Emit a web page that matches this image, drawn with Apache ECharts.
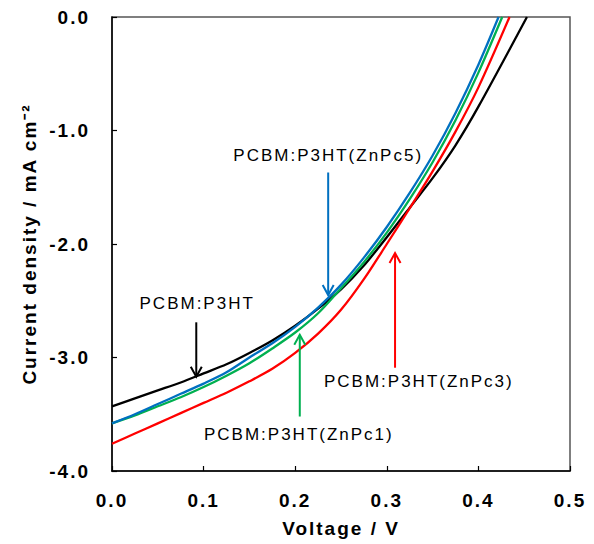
<!DOCTYPE html>
<html>
<head>
<meta charset="utf-8">
<script src="https://cdn.jsdelivr.net/npm/echarts@6/dist/echarts.min.js"></script>
<style>
  html, body { margin: 0; padding: 0; background: #fff; }
  #chart { width: 594px; height: 544px; }
  #chart text { letter-spacing: 2px; }
</style>
</head>
<body>
<div id="chart"></div>
<script>
// ---- data ----
const voltage = [0, 0.025, 0.05, 0.075, 0.1, 0.125, 0.15, 0.175, 0.2, 0.225, 0.25, 0.275, 0.3, 0.325, 0.35, 0.375, 0.4];
const seriesNames = ['PCBM:P3HT', 'PCBM:P3HT(ZnPc3)', 'PCBM:P3HT(ZnPc1)', 'PCBM:P3HT(ZnPc5)'];
const jBlack = [-3.43, -3.36, -3.29, -3.22, -3.14, -3.06, -2.96, -2.85, -2.72, -2.57, -2.40, -2.19, -1.94, -1.68, -1.42, -1.13, -0.79];
const jRed   = [-3.76, -3.67, -3.58, -3.49, -3.40, -3.31, -3.21, -3.10, -2.96, -2.79, -2.58, -2.31, -2.00, -1.685, -1.36, -1.01, -0.62];
const jGreen = [-3.58, -3.51, -3.43, -3.35, -3.26, -3.16, -3.05, -2.92, -2.78, -2.61, -2.39, -2.16, -1.90, -1.605, -1.28, -0.91, -0.49];
const jBlue  = [-3.58, -3.50, -3.41, -3.32, -3.23, -3.13, -3.00, -2.875, -2.73, -2.56, -2.36, -2.12, -1.85, -1.55, -1.22, -0.845, -0.42];
const vocValues = [0.453, 0.434, 0.426, 0.422];

const xTicks = [0, 0.1, 0.2, 0.3, 0.4, 0.5];
const yTicks = [-4, -3, -2, -1, 0];

// annotations
const annoLabels = ['PCBM:P3HT', 'PCBM:P3HT(ZnPc5)', 'PCBM:P3HT(ZnPc3)', 'PCBM:P3HT(ZnPc1)'];
const annoArrowV = [0.092, 0.236, 0.309, 0.205];
const annoArrowFrom = [-2.69, -1.37, -3.09, -3.52];
const annoArrowTo = [-3.17, -2.45, -2.08, -2.80];
const annoTextV = [0.093, 0.236, 0.335, 0.204];
const annoTextJ = [-2.52, -1.22, -3.21, -3.68];

// ---- styles ----
const seriesColors = ['#000000', '#FF0000', '#00B050', '#0070C0'];
const annoColors = ['#000000', '#0070C0', '#FF0000', '#00B050'];
const FONT = '"Liberation Sans", Arial, sans-serif';

const curves = [jBlack, jRed, jGreen, jBlue];

const lineSeries = curves.map((arr, k) => ({
  name: seriesNames[k],
  type: 'line',
  showSymbol: false,
  smooth: 0.3,
  data: voltage.map((v, i) => [v, arr[i]]).concat([[vocValues[k], 0]]),
  lineStyle: { color: seriesColors[k], width: 2.3 },
  itemStyle: { color: seriesColors[k] },
  z: 2 + k
}));

const annoData = annoArrowV.map((v, i) => [v, annoArrowFrom[i], annoArrowTo[i], annoTextV[i], annoTextJ[i]]);

const annoSeries = {
  type: 'custom',
  clip: false,
  z: 10,
  data: annoData,
  encode: { x: 0, y: 1 },
  renderItem: function (params, api) {
    const i = params.dataIndex;
    const v = api.value(0);
    const p1 = api.coord([v, api.value(1)]);
    const p2 = api.coord([v, api.value(2)]);
    const pt = api.coord([api.value(3), api.value(4)]);
    const dx = p2[0] - p1[0], dy = p2[1] - p1[1];
    const len = Math.sqrt(dx * dx + dy * dy) || 1;
    const ux = dx / len, uy = dy / len;
    const hl = 10, hw = 5.5;
    const bx = p2[0] - ux * hl, by = p2[1] - uy * hl;
    const color = annoColors[i];
    return {
      type: 'group',
      children: [
        { type: 'line', shape: { x1: p1[0], y1: p1[1], x2: p2[0], y2: p2[1] },
          style: { stroke: color, lineWidth: 2 } },
        { type: 'polyline', shape: { points: [[bx - uy * hw, by + ux * hw], [p2[0], p2[1]], [bx + uy * hw, by - ux * hw]] },
          style: { stroke: color, lineWidth: 2, fill: null } },
        { type: 'text', style: { text: annoLabels[i], x: pt[0], y: pt[1], fill: '#000',
          font: '17px ' + FONT, align: 'center', verticalAlign: 'middle' } }
      ]
    };
  }
};

const chart = echarts.init(document.getElementById('chart'), null, { renderer: 'svg' });
chart.setOption({
  animation: false,
  backgroundColor: '#ffffff',
  grid: { left: 112, top: 17, right: 24, bottom: 73, show: true, borderColor: '#555', borderWidth: 1.5, backgroundColor: 'transparent' },
  xAxis: {
    type: 'value',
    min: xTicks[0], max: xTicks[xTicks.length - 1], interval: 0.1,
    name: 'Voltage / V',
    nameLocation: 'middle',
    nameGap: 48,
    nameTextStyle: { fontFamily: FONT, fontWeight: 'bold', fontSize: 19, color: '#000' },
    axisLine: { show: true, onZero: false, lineStyle: { color: '#000', width: 1.5 } },
    axisTick: { show: true, inside: true, length: 5, lineStyle: { color: '#000', width: 1.2 } },
    axisLabel: { margin: 20, fontFamily: FONT, fontWeight: 'bold', fontSize: 19, color: '#000',
      formatter: v => v.toFixed(1) },
    splitLine: { show: false }
  },
  yAxis: {
    type: 'value',
    min: yTicks[0], max: yTicks[yTicks.length - 1], interval: 1,
    name: 'Current density / mA cm⁻²',
    nameLocation: 'middle',
    nameGap: 73,
    nameRotate: 90,
    nameTextStyle: { fontFamily: FONT, fontWeight: 'bold', fontSize: 19, color: '#000' },
    axisLine: { show: true, onZero: false, lineStyle: { color: '#000', width: 1.5 } },
    axisTick: { show: true, inside: true, length: 5, lineStyle: { color: '#000', width: 1.2 } },
    axisLabel: { margin: 22, fontFamily: FONT, fontWeight: 'bold', fontSize: 19, color: '#000',
      formatter: v => v.toFixed(1) },
    splitLine: { show: false }
  },
  series: lineSeries.concat([annoSeries])
});
</script>
</body>
</html>
